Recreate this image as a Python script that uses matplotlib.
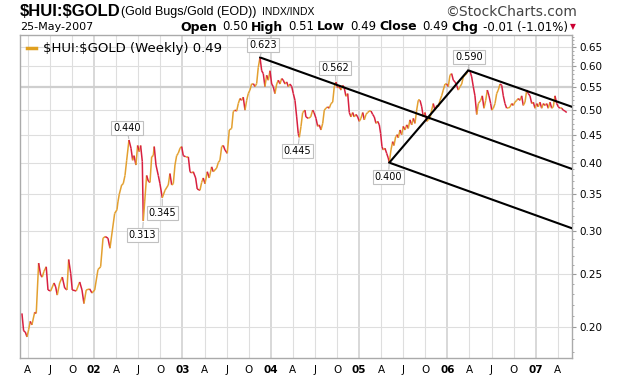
import numpy as np
import matplotlib
matplotlib.use("Agg")
import matplotlib.pyplot as plt
from matplotlib.collections import LineCollection
from matplotlib.lines import Line2D
from matplotlib.ticker import FixedLocator, NullFormatter

# weekly $HUI:$GOLD ratio, dates as decimal years
years = [
    2001.182, 2001.201, 2001.220, 2001.239, 2001.258, 2001.276, 2001.295, 2001.326, 2001.344, 2001.371,
    2001.394, 2001.412, 2001.431, 2001.457, 2001.477, 2001.507, 2001.545, 2001.564, 2001.582, 2001.609,
    2001.639, 2001.666, 2001.692, 2001.711, 2001.734, 2001.752, 2001.797, 2001.836, 2001.862, 2001.884,
    2001.910, 2001.949, 2001.975, 2002.006, 2002.043, 2002.073, 2002.100, 2002.126, 2002.156, 2002.179,
    2002.205, 2002.232, 2002.258, 2002.269, 2002.284, 2002.311, 2002.329, 2002.349, 2002.368, 2002.394,
    2002.417, 2002.436, 2002.451, 2002.473, 2002.492, 2002.511, 2002.526, 2002.545, 2002.556, 2002.572,
    2002.594, 2002.613, 2002.632, 2002.651, 2002.669, 2002.680, 2002.700, 2002.726, 2002.745, 2002.771,
    2002.802, 2002.839, 2002.858, 2002.878, 2002.896, 2002.915, 2002.934, 2002.952, 2002.972, 2002.991,
    2003.009, 2003.036, 2003.066, 2003.085, 2003.104, 2003.122, 2003.149, 2003.167, 2003.198, 2003.217,
    2003.235, 2003.255, 2003.281, 2003.303, 2003.330, 2003.349, 2003.387, 2003.405, 2003.424, 2003.444,
    2003.462, 2003.481, 2003.507, 2003.530, 2003.557, 2003.575, 2003.594, 2003.614, 2003.632, 2003.651,
    2003.670, 2003.688, 2003.708, 2003.727, 2003.745, 2003.764, 2003.784, 2003.802, 2003.821, 2003.840,
    2003.858, 2003.878, 2003.897, 2003.915, 2003.934, 2003.953, 2003.972, 2003.991, 2004.010, 2004.028,
    2004.047, 2004.067, 2004.085, 2004.104, 2004.123, 2004.141, 2004.161, 2004.180, 2004.198, 2004.217,
    2004.237, 2004.255, 2004.274, 2004.293, 2004.311, 2004.323, 2004.342, 2004.361, 2004.387, 2004.398,
    2004.425, 2004.452, 2004.474, 2004.489, 2004.512, 2004.531, 2004.549, 2004.568, 2004.588, 2004.606,
    2004.625, 2004.644, 2004.662, 2004.682, 2004.701, 2004.719, 2004.738, 2004.757, 2004.776, 2004.795,
    2004.814, 2004.832, 2004.851, 2004.871, 2004.889, 2004.908, 2004.927, 2004.945, 2004.965, 2004.984,
    2005.002, 2005.021, 2005.041, 2005.059, 2005.078, 2005.097, 2005.115, 2005.135, 2005.154, 2005.172,
    2005.191, 2005.210, 2005.229, 2005.244, 2005.259, 2005.274, 2005.293, 2005.312, 2005.330, 2005.342,
    2005.361, 2005.380, 2005.395, 2005.414, 2005.432, 2005.444, 2005.463, 2005.482, 2005.500, 2005.520,
    2005.539, 2005.557, 2005.576, 2005.596, 2005.614, 2005.633, 2005.652, 2005.670, 2005.690, 2005.709,
    2005.727, 2005.746, 2005.765, 2005.783, 2005.803, 2005.822, 2005.840, 2005.859, 2005.879, 2005.897,
    2005.916, 2005.935, 2005.953, 2005.973, 2005.992, 2006.010, 2006.029, 2006.048, 2006.067, 2006.086,
    2006.105, 2006.123, 2006.143, 2006.162, 2006.180, 2006.199, 2006.218, 2006.236, 2006.256, 2006.275,
    2006.293, 2006.312, 2006.332, 2006.350, 2006.377, 2006.395, 2006.414, 2006.434, 2006.452, 2006.471,
    2006.490, 2006.502, 2006.520, 2006.539, 2006.558, 2006.576, 2006.596, 2006.615, 2006.633, 2006.652,
    2006.671, 2006.689, 2006.709, 2006.728, 2006.746, 2006.765, 2006.785, 2006.803, 2006.822, 2006.841,
    2006.859, 2006.879, 2006.898, 2006.916, 2006.935, 2006.955, 2006.973, 2006.992, 2007.011, 2007.029,
    2007.048, 2007.068, 2007.086, 2007.105, 2007.124, 2007.142, 2007.162, 2007.181, 2007.199, 2007.218,
    2007.238, 2007.256, 2007.275, 2007.294, 2007.312, 2007.332, 2007.351,
]
ratio = [
    0.212, 0.197, 0.196, 0.192, 0.198, 0.205, 0.202, 0.213, 0.212, 0.262,
    0.249, 0.247, 0.253, 0.258, 0.234, 0.233, 0.241, 0.237, 0.229, 0.241,
    0.247, 0.236, 0.234, 0.266, 0.251, 0.234, 0.233, 0.242, 0.234, 0.221,
    0.234, 0.235, 0.231, 0.234, 0.255, 0.258, 0.291, 0.293, 0.291, 0.279,
    0.300, 0.323, 0.328, 0.339, 0.350, 0.364, 0.366, 0.379, 0.404, 0.440,
    0.425, 0.404, 0.412, 0.396, 0.430, 0.419, 0.430, 0.402, 0.313, 0.339,
    0.379, 0.370, 0.368, 0.410, 0.412, 0.428, 0.396, 0.379, 0.366, 0.345,
    0.356, 0.364, 0.382, 0.364, 0.366, 0.396, 0.412, 0.416, 0.425, 0.428,
    0.412, 0.410, 0.410, 0.385, 0.383, 0.385, 0.375, 0.358, 0.356, 0.368,
    0.375, 0.366, 0.385, 0.375, 0.393, 0.385, 0.391, 0.400, 0.404, 0.428,
    0.430, 0.422, 0.416, 0.459, 0.462, 0.496, 0.499, 0.497, 0.513, 0.524,
    0.520, 0.527, 0.499, 0.520, 0.535, 0.543, 0.558, 0.558, 0.551, 0.558,
    0.597, 0.623, 0.589, 0.582, 0.551, 0.578, 0.566, 0.589, 0.557, 0.551,
    0.535, 0.557, 0.566, 0.557, 0.570, 0.566, 0.557, 0.562, 0.551, 0.557,
    0.551, 0.535, 0.520, 0.485, 0.452, 0.445, 0.466, 0.494, 0.499, 0.485,
    0.482, 0.485, 0.499, 0.494, 0.482, 0.466, 0.469, 0.459, 0.472, 0.499,
    0.503, 0.506, 0.503, 0.513, 0.516, 0.551, 0.562, 0.548, 0.551, 0.543,
    0.554, 0.548, 0.529, 0.535, 0.494, 0.485, 0.494, 0.485, 0.490, 0.485,
    0.476, 0.482, 0.494, 0.479, 0.490, 0.494, 0.497, 0.497, 0.490, 0.485,
    0.472, 0.476, 0.469, 0.452, 0.428, 0.422, 0.425, 0.416, 0.408, 0.400,
    0.422, 0.437, 0.430, 0.446, 0.450, 0.444, 0.459, 0.450, 0.466, 0.459,
    0.469, 0.462, 0.479, 0.469, 0.482, 0.472, 0.499, 0.520, 0.520, 0.506,
    0.485, 0.494, 0.476, 0.479, 0.482, 0.499, 0.513, 0.499, 0.509, 0.506,
    0.520, 0.530, 0.543, 0.557, 0.557, 0.551, 0.578, 0.582, 0.566, 0.562,
    0.554, 0.543, 0.551, 0.557, 0.574, 0.578, 0.582, 0.590, 0.588, 0.574,
    0.551, 0.530, 0.490, 0.513, 0.520, 0.530, 0.503, 0.520, 0.543, 0.530,
    0.513, 0.499, 0.503, 0.513, 0.535, 0.543, 0.557, 0.554, 0.530, 0.513,
    0.503, 0.503, 0.506, 0.513, 0.509, 0.516, 0.520, 0.524, 0.520, 0.530,
    0.509, 0.516, 0.543, 0.535, 0.530, 0.513, 0.516, 0.503, 0.513, 0.506,
    0.516, 0.503, 0.513, 0.509, 0.513, 0.503, 0.516, 0.503, 0.506, 0.530,
    0.513, 0.506, 0.503, 0.503, 0.499, 0.497, 0.494,
]

# labelled turning points
pivot_years = [2002.394, 2002.556, 2002.771, 2003.878, 2004.323, 2004.738, 2005.342, 2006.236]
pivot_values = [0.440, 0.313, 0.345, 0.623, 0.445, 0.562, 0.400, 0.590]
pivot_labels = ["0.440", "0.313", "0.345", "0.623", "0.445", "0.562", "0.400", "0.590"]
pivot_offsets = [(-2, 12), (-1, -14), (0, -15), (3, 12), (-2, -14), (-1, 14), (-1, -14), (1, 13)]

# channel lines drawn on the chart: (x0, y0, x1, y1)
channel_lines = [
    (2003.878, 0.623, 2007.411, 0.3895),
    (2006.236, 0.590, 2007.411, 0.506),
    (2005.342, 0.400, 2007.411, 0.3034),
    (2005.342, 0.400, 2006.236, 0.590),
]

quarter_ticks = np.arange(2001.25, 2007.26, 0.25)
quarter_labels = ["A", "J", "O", "02", "A", "J", "O", "03", "A", "J", "O", "04", "A", "J", "O",
                  "05", "A", "J", "O", "06", "A", "J", "O", "07", "A"]
price_ticks = [0.20, 0.25, 0.30, 0.35, 0.40, 0.45, 0.50, 0.55, 0.60, 0.65]

UP = "#e3a030"
DOWN = "#d82040"

fig = plt.figure(figsize=(6.2, 3.79), dpi=100)
ax = fig.add_axes([20 / 620, 1 - 358 / 379, 552 / 620, 323 / 379])

ax.set_yscale("log")
ax.set_xlim(2001.160, 2007.411)
ax.set_ylim(0.1757, 0.6847)

# grid
for i, q in enumerate(quarter_ticks):
    yr = quarter_labels[i].isdigit()
    ax.axvline(q, color="#d2d2d2" if yr else "#dedede", lw=1.2 if yr else 0.8, zorder=0)
for p in price_ticks:
    ax.axhline(p, color="#cfcfcf" if p == 0.55 else "#dedede", lw=1.6 if p == 0.55 else 0.8, zorder=0)

# price line, coloured by weekly direction
x = np.array(years)
y = np.array(ratio)
segs = np.stack([np.column_stack([x[:-1], y[:-1]]), np.column_stack([x[1:], y[1:]])], axis=1)
cols = [UP if b >= a else DOWN for a, b in zip(y[:-1], y[1:])]
ax.add_collection(LineCollection(segs, colors=cols, linewidths=1.1, zorder=3))

for x0, y0, x1, y1 in channel_lines:
    ax.plot([x0, x1], [y0, y1], color="black", lw=1.5, solid_capstyle="round", zorder=4)

for px, pv, lab, off in zip(pivot_years, pivot_values, pivot_labels, pivot_offsets):
    ax.annotate(lab, (px, pv), xytext=off, textcoords="offset pixels",
                ha="center", va="center", fontsize=7, zorder=6,
                bbox=dict(boxstyle="square,pad=0.2", fc="white", ec="#c0c0c0", lw=0.8),
                arrowprops=dict(arrowstyle="-", color="#c0c0c0", lw=0.8, shrinkA=0, shrinkB=1))

# axes styling
ax.yaxis.tick_right()
ax.yaxis.set_major_locator(FixedLocator(price_ticks))
ax.set_yticklabels(["%.2f" % p for p in price_ticks])
minor = [v / 100 for v in range(18, 69) if v % 5 != 0]
ax.yaxis.set_minor_locator(FixedLocator(minor))
ax.yaxis.set_minor_formatter(NullFormatter())
ax.tick_params(axis="y", which="major", labelsize=7.5, length=3, color="#999999", pad=2)
ax.tick_params(axis="y", which="minor", length=1.5, color="#999999")
ax.set_xticks(quarter_ticks)
ax.set_xticklabels(quarter_labels)
ax.tick_params(axis="x", labelsize=7.5, length=0, pad=5)
for t, lab in zip(ax.get_xticklabels(), quarter_labels):
    if lab.isdigit():
        t.set_fontweight("bold")
for s in ax.spines.values():
    s.set_color("#aaaaaa")
    s.set_linewidth(1)

leg = ax.legend([Line2D([0], [0], color="#e0a020", lw=2.5)],
                [r"\$HUI:\$GOLD (Weekly) 0.49"], loc="upper left",
                bbox_to_anchor=(0, 1), borderaxespad=0.15, frameon=False,
                handlelength=0.7, handletextpad=0.5, fontsize=9.5)

# header
H = 379
fig.text(20 / 620, 1 - 11 / H, r"\$HUI:\$GOLD", fontsize=12, fontweight="bold",
         family="Liberation Sans", va="center")
fig.text(121 / 620, 1 - 12 / H, "(Gold Bugs/Gold (EOD))", fontsize=9, va="center",
         family="Liberation Sans")
fig.text(262 / 620, 1 - 12 / H, "INDX/INDX", fontsize=7.5, va="center", family="Liberation Sans")
fig.text(577 / 620, 1 - 12 / H, "©StockCharts.com", fontsize=10, va="center", ha="right",
         color="#444444")
fig.text(20 / 620, 1 - 27 / H, "25-May-2007", fontsize=8, va="center")

pieces = [("Open", True), ("0.50", False), ("High", True), ("0.51", False),
          ("Low", True), ("0.49", False), ("Close", True), ("0.49", False),
          ("Chg", True), ("-0.01 (-1.01%)", False)]
renderer = fig.canvas.get_renderer()
xr = 568
fig.text(576 / 620, 1 - 27 / H, "▼", fontsize=5.5, color="#cc0033", va="center", ha="right")
for txt, bold in reversed(pieces):
    t = fig.text(xr / 620, 1 - 27 / H, txt, fontsize=9 if bold else 8.5,
                 fontweight="bold" if bold else "normal", va="center", ha="right")
    bb = t.get_window_extent(renderer)
    xr = bb.x0 - (5 if not bold else 3)

fig.savefig("out.png", dpi=100)
